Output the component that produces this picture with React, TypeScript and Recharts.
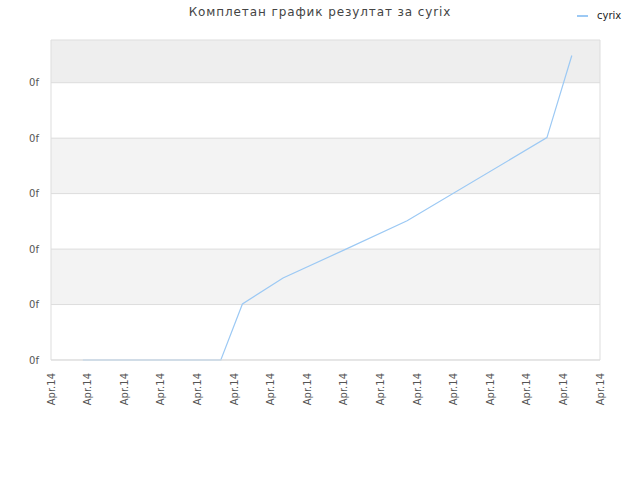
import React from "react";
import {
  CartesianGrid,
  Line,
  LineChart,
  ReferenceLine,
  XAxis,
  YAxis,
} from "recharts";

const TITLE = "Комплетан график резултат за cyrix";
const SERIES_NAME = "cyrix";

// x positions in tick units (0..15), y in gridline units
const POINT_X = [0.87, 4.64, 5.23, 6.34, 8.03, 9.73, 13.55, 14.23];
const POINT_Y = [0, 0, 1.01, 1.48, 1.99, 2.51, 4.01, 5.49];

const X_TICKS = [0, 1, 2, 3, 4, 5, 6, 7, 8, 9, 10, 11, 12, 13, 14, 15];
const X_TICK_LABEL = "Apr.14";
const Y_TICKS = [0, 1, 2, 3, 4, 5];
const Y_TICK_LABEL = "0f";
const Y_MAX = 5.77;

const FONT = "'DejaVu Sans', Verdana, sans-serif";
const LINE_COLOR = "#9cc9f4";

const data = POINT_X.map((x, i) => ({ x, value: POINT_Y[i] }));

function XTick(props: any) {
  const { x, y } = props;
  return (
    <g transform={`translate(${x},${y})`}>
      <text
        transform="rotate(-90)"
        textAnchor="end"
        dy="0.35em"
        fontSize={10}
        fontFamily={FONT}
        fill="#555"
      >
        {X_TICK_LABEL}
      </text>
    </g>
  );
}

export default function App() {
  return (
    <div style={{ position: "relative", width: 640, height: 480 }}>
      <style>{"body{margin:0}"}</style>
      <LineChart
        width={640}
        height={480}
        data={data}
        margin={{ top: 40, right: 40, left: 0, bottom: 0 }}
      >
        <CartesianGrid
          vertical={false}
          stroke="#dddddd"
          fillOpacity={1}
          horizontalFill={["#eeeeee", "#ffffff", "#f3f3f3", "#ffffff", "#f3f3f3", "#ffffff"]}
          horizontalCoordinatesGenerator={({ offset }: any) =>
            [...Y_TICKS, Y_MAX].map(
              (v) => offset.top + offset.height * (1 - v / Y_MAX),
            )
          }
        />
        <XAxis
          type="number"
          dataKey="x"
          domain={[0, 15]}
          ticks={X_TICKS}
          interval={0}
          height={120}
          tickLine={false}
          tickSize={0}
          tickMargin={13}
          axisLine={{ stroke: "#dddddd" }}
          tick={<XTick />}
        />
        <YAxis
          type="number"
          domain={[0, Y_MAX]}
          ticks={Y_TICKS}
          width={51}
          tickLine={false}
          tickSize={0}
          tickMargin={12}
          axisLine={{ stroke: "#dddddd" }}
          tickFormatter={() => Y_TICK_LABEL}
          tick={{ fontSize: 10, fontFamily: FONT, fill: "#555" }}
        />
        <ReferenceLine x={15} stroke="#dddddd" />
        <Line
          type="linear"
          dataKey="value"
          name={SERIES_NAME}
          stroke={LINE_COLOR}
          strokeWidth={1.2}
          dot={false}
          isAnimationActive={false}
        />
      </LineChart>
      <div
        style={{
          position: "absolute",
          top: 5,
          left: 0,
          width: 640,
          textAlign: "center",
          fontFamily: FONT,
          fontSize: 12,
          letterSpacing: 0.9,
          color: "#444",
          lineHeight: "14px",
        }}
      >
        {TITLE}
      </div>
      <div
        style={{
          position: "absolute",
          top: 15,
          left: 577,
          width: 11,
          height: 2,
          background: LINE_COLOR,
        }}
      />
      <div
        style={{
          position: "absolute",
          top: 10,
          left: 597,
          fontFamily: FONT,
          fontSize: 10,
          color: "#222",
          lineHeight: "12px",
        }}
      >
        {SERIES_NAME}
      </div>
    </div>
  );
}
